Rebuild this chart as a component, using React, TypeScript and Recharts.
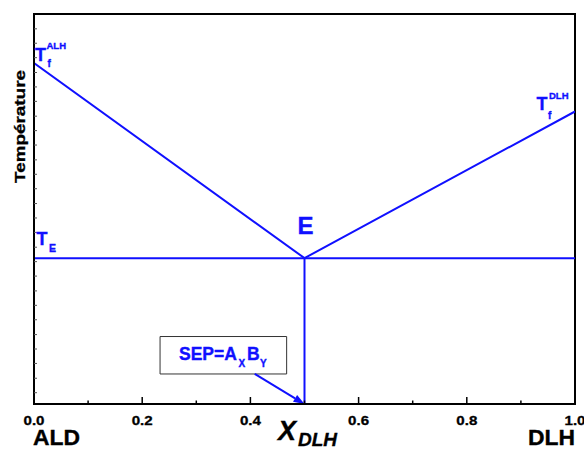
import React from "react";
import {
  ComposedChart,
  Line,
  XAxis,
  YAxis,
  ReferenceArea,
  ReferenceLine,
} from "recharts";

// composition X_DLH -> temperature (relative, no unit on the picture)
const liquidus = [
  { x: 0, y: 87.4 },
  { x: 0.5, y: 37.4 },
  { x: 1, y: 75.0 },
];
const eutectic = [
  { x: 0, y: 37.4 },
  { x: 1, y: 37.4 },
];
const eutecticVertical = [
  { x: 0.5, y: 37.4 },
  { x: 0.5, y: 0 },
];

const xTicks = [0, 0.1, 0.2, 0.3, 0.4, 0.5, 0.6, 0.7, 0.8, 0.9, 1.0];
const yMinorTicks = [
  2.9, 6.6, 10.4, 14.1, 17.8, 21.6, 25.3, 29.0, 32.8, 36.5, 40.2, 44.0, 47.7,
  51.4, 55.2, 58.9, 62.6, 66.4, 70.1, 73.8, 77.6, 81.3, 85.0, 88.8, 92.5, 96.2,
];

// SEP box and its arrow, in data units
const sepBox = { x1: 0.233, x2: 0.467, y1: 7.7, y2: 17.3 };
const sepArrow = [
  { x: 0.408, y: 7.7 },
  { x: 0.5, y: 0 },
];

const BLUE = "#1010ff";
const FONT = "'Liberation Sans', Arial, sans-serif";

const XTick = (props: any) => {
  const { x, y, payload } = props;
  const v = payload.value as number;
  const major = Math.round(v * 10) % 2 === 0;
  return (
    <g>
      <line x1={x} x2={x} y1={y} y2={y - (major ? 7 : 3.5)} stroke="#000" strokeWidth={1.5} />
      {major && (
        <text
          x={x - 10.5}
          y={y + 21}
          fontSize={12.5}
          fontWeight="bold"
          fontFamily={FONT}
          fill="#000"
          stroke="#000"
          strokeWidth={0.3}
          textLength={21}
          lengthAdjust="spacingAndGlyphs"
        >
          {v.toFixed(1)}
        </text>
      )}
    </g>
  );
};

const YTick = (props: any) => {
  const { x, y } = props;
  return <line x1={x} x2={x + 3} y1={y} y2={y} stroke="#555" strokeWidth={1} />;
};

const Arrow = (props: any) => {
  const { x1, y1, x2, y2 } = props;
  const ang = Math.atan2(y2 - y1, x2 - x1);
  const len = 11;
  const w = 4;
  const bx = x2 - len * Math.cos(ang);
  const by = y2 - len * Math.sin(ang);
  const px = -Math.sin(ang) * w;
  const py = Math.cos(ang) * w;
  return (
    <g>
      <line x1={x1} y1={y1} x2={bx} y2={by} stroke={BLUE} strokeWidth={2} />
      <polygon points={`${x2},${y2} ${bx + px},${by + py} ${bx - px},${by - py}`} fill={BLUE} />
    </g>
  );
};

const Labels = () => (
  <svg
    width={584}
    height={450}
    style={{ position: "absolute", left: 0, top: 0, pointerEvents: "none" }}
    fontFamily={FONT}
    fontWeight="bold"
  >
    <text
      transform="translate(24.5,183) rotate(-90)"
      fontSize={15}
      fill="#000"
      stroke="#000"
      strokeWidth={0.3}
      textLength={113}
      lengthAdjust="spacingAndGlyphs"
    >
      Température
    </text>

    <g fill={BLUE} stroke={BLUE} strokeWidth={0.35}>
      <text x={35} y={60.5} fontSize={18}>T</text>
      <text x={46.5} y={48.5} fontSize={9.5}>ALH</text>
      <text x={47.5} y={67} fontSize={10}>f</text>

      <text x={536.5} y={110} fontSize={18}>T</text>
      <text x={549} y={99} fontSize={9.5}>DLH</text>
      <text x={548} y={118.5} fontSize={10}>f</text>

      <text x={36.5} y={244.5} fontSize={18}>T</text>
      <text x={49} y={252} fontSize={10.5}>E</text>

      <text x={297.5} y={234} fontSize={24}>E</text>

      <text x={179} y={359.5} fontSize={17.5}>SEP=A</text>
      <text x={238.5} y={366.5} fontSize={10}>X</text>
      <text x={247} y={359.5} fontSize={17.5}>B</text>
      <text x={260} y={366.5} fontSize={10}>Y</text>
    </g>

    <g fill="#000" stroke="#000" strokeWidth={0.35}>
      <text x={33} y={445} fontSize={21.5} textLength={47} lengthAdjust="spacingAndGlyphs">ALD</text>
      <text x={528} y={445} fontSize={21.5} textLength={47} lengthAdjust="spacingAndGlyphs">DLH</text>
      <text x={278} y={440} fontSize={27} fontStyle="italic">X</text>
      <text x={298} y={446} fontSize={19} fontStyle="italic">DLH</text>
    </g>
  </svg>
);

export default function App() {
  return (
    <div style={{ position: "absolute", left: 0, top: 0, width: 584, height: 450, background: "#fff" }}>
      <ComposedChart width={584} height={450} margin={{ top: 14, right: 9, bottom: 0, left: 0 }}>
        <XAxis
          dataKey="x"
          type="number"
          domain={[0, 1]}
          ticks={xTicks}
          interval={0}
          tick={<XTick />}
          tickLine={false}
          tickSize={0}
          tickMargin={0}
          height={46}
          axisLine={{ stroke: "#000", strokeWidth: 2 }}
          allowDataOverflow
        />
        <YAxis
          type="number"
          domain={[0, 100]}
          ticks={yMinorTicks}
          interval={0}
          tick={<YTick />}
          tickLine={false}
          tickSize={0}
          tickMargin={0}
          width={34}
          axisLine={{ stroke: "#000", strokeWidth: 2 }}
          allowDataOverflow
        />
        <ReferenceArea
          x1={0}
          x2={1}
          y1={0}
          y2={100}
          fill="none"
          fillOpacity={0}
          stroke="#000"
          strokeWidth={2}
        />
        <ReferenceArea
          x1={sepBox.x1}
          x2={sepBox.x2}
          y1={sepBox.y1}
          y2={sepBox.y2}
          fill="#fff"
          fillOpacity={1}
          stroke="#333"
          strokeWidth={1}
        />
        <ReferenceLine segment={sepArrow} shape={<Arrow />} />
        <Line data={liquidus} dataKey="y" type="linear" stroke={BLUE} strokeWidth={2} dot={false} isAnimationActive={false} />
        <Line data={eutectic} dataKey="y" type="linear" stroke={BLUE} strokeWidth={2} dot={false} isAnimationActive={false} />
        <Line data={eutecticVertical} dataKey="y" type="linear" stroke={BLUE} strokeWidth={2} dot={false} isAnimationActive={false} />
      </ComposedChart>
      <Labels />
    </div>
  );
}
